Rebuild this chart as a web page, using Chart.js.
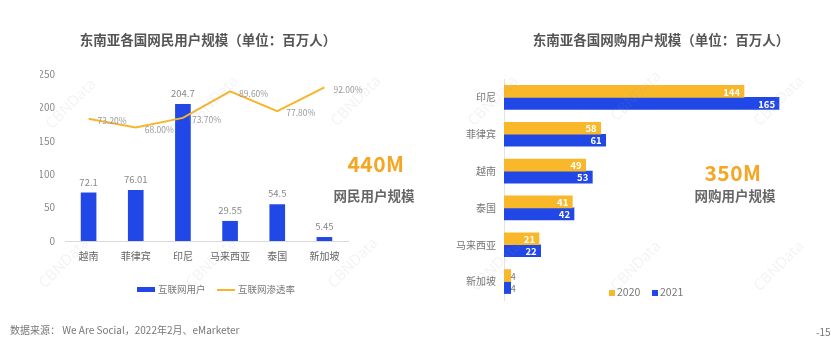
<!DOCTYPE html>
<html>
<head>
<meta charset="utf-8">
<script src="https://cdn.jsdelivr.net/npm/chart.js@4/dist/chart.umd.min.js"></script>
<style>
  html, body { margin:0; padding:0; background:#fff; }
  body { width:831px; height:343px; position:relative; overflow:hidden;
         font-family:"Noto Sans CJK SC","Noto Sans",sans-serif; }
  .abs { position:absolute; white-space:nowrap; }
  .title { font-size:13.5px; font-weight:bold; color:#555; transform:translateX(-50%); }
  .big { font-size:21px; font-weight:bold; color:#f5a623; transform:translateX(-50%); letter-spacing:0.5px; }
  .sub { font-size:13.5px; font-weight:bold; color:#666; transform:translateX(-50%); }
  .leg { font-size:9.5px; color:#777; }
  .wm { font-size:15px; color:rgba(160,160,160,0.12); transform:translate(-50%,-50%) rotate(-45deg); font-family:"Open Sans",sans-serif; }
  canvas { position:absolute; top:0; }
</style>
</head>
<body>
<canvas id="c1" width="420" height="343" style="left:0;width:420px;height:343px"></canvas>
<canvas id="c2" width="411" height="343" style="left:420px;width:411px;height:343px"></canvas>

<div class="abs title" style="left:208px;top:29px">东南亚各国网民用户规模（单位：百万人）</div>
<div class="abs title" style="left:661px;top:29px">东南亚各国网购用户规模（单位：百万人）</div>

<div class="abs big" style="left:376px;top:148px">440M</div>
<div class="abs sub" style="left:374px;top:185px">网民用户规模</div>
<div class="abs big" style="left:733px;top:157px">350M</div>
<div class="abs sub" style="left:735px;top:185px">网购用户规模</div>

<!-- left legend -->
<div class="abs" style="left:137px;top:287px;width:18px;height:5px;background:#2148e6"></div>
<div class="abs leg" style="left:158px;top:282px">互联网用户</div>
<div class="abs" style="left:217px;top:289px;width:18px;height:2px;background:#f7b52c"></div>
<div class="abs leg" style="left:238px;top:282px">互联网渗透率</div>

<!-- right legend -->
<div class="abs" style="left:609px;top:290px;width:6px;height:6px;background:#f9b82a"></div>
<div class="abs leg" style="left:617px;top:284px;font-size:10.5px">2020</div>
<div class="abs" style="left:652px;top:290px;width:6px;height:6px;background:#2148e6"></div>
<div class="abs leg" style="left:660px;top:284px;font-size:10.5px">2021</div>

<div class="abs" style="left:10px;top:322px;font-size:10px;color:#777">数据来源：&nbsp;We Are Social，2022年2月、eMarketer</div>
<div class="abs" style="left:816px;top:324px;font-size:10px;color:#777">-15</div>

<div class="abs wm" style="left:70px;top:103px">CBNData</div>
<div class="abs wm" style="left:212px;top:100px">CBNData</div>
<div class="abs wm" style="left:355px;top:100px">CBNData</div>
<div class="abs wm" style="left:63px;top:262px">CBNData</div>
<div class="abs wm" style="left:210px;top:262px">CBNData</div>
<div class="abs wm" style="left:352px;top:262px">CBNData</div>
<div class="abs wm" style="left:492px;top:100px">CBNData</div>
<div class="abs wm" style="left:635px;top:95px">CBNData</div>
<div class="abs wm" style="left:778px;top:100px">CBNData</div>
<div class="abs wm" style="left:495px;top:265px">CBNData</div>
<div class="abs wm" style="left:635px;top:265px">CBNData</div>
<div class="abs wm" style="left:778px;top:265px">CBNData</div>

<script>
// ---- data ----
const netCountries = ['越南','菲律宾','印尼','马来西亚','泰国','新加坡'];
const netUsers = [72.1, 76.01, 204.7, 29.55, 54.5, 5.45];
const netUserLabels = ['72.1','76.01','204.7','29.55','54.5','5.45'];
const netPenetration = [73.2, 68.0, 73.7, 89.6, 77.8, 92.0];
const yTicks = [0, 50, 100, 150, 200, 250];

const shopCountries = ['印尼','菲律宾','越南','泰国','马来西亚','新加坡'];
const shop2020 = [144, 58, 49, 41, 21, 4];
const shop2021 = [165, 61, 53, 42, 22, 4];
const shopYears = ['2020','2021'];

const BLUE = '#2148e6', ORANGE = '#f7b52c', ORANGE2 = '#f9b82a';
const FONT = '"Noto Sans CJK SC","Noto Sans",sans-serif';

// label plugin for left chart
const leftLabels = {
  id: 'leftLabels',
  afterDatasetsDraw(chart) {
    const ctx = chart.ctx;
    ctx.save();
    const bars = chart.getDatasetMeta(0).data;
    ctx.font = '9.5px ' + FONT;
    ctx.fillStyle = '#888';
    ctx.textAlign = 'center';
    ctx.textBaseline = 'bottom';
    bars.forEach((b, i) => ctx.fillText(netUserLabels[i], b.x, b.y - 6));
    const pts = chart.getDatasetMeta(1).data;
    ctx.font = '8.5px ' + FONT;
    ctx.fillStyle = '#999';
    ctx.textAlign = 'left';
    ctx.textBaseline = 'middle';
    pts.forEach((p, i) => ctx.fillText(netPenetration[i].toFixed(2) + '%', p.x + 9, p.y + 2));
    ctx.restore();
  }
};

new Chart(document.getElementById('c1'), {
  data: {
    labels: netCountries,
    datasets: [
      { type: 'bar', label: '互联网用户', data: netUsers, backgroundColor: BLUE,
        barThickness: 15, yAxisID: 'y', order: 2 },
      { type: 'line', label: '互联网渗透率', data: netPenetration, borderColor: ORANGE,
        borderWidth: 2, pointRadius: 0, tension: 0, yAxisID: 'y2', order: 1 }
    ]
  },
  options: {
    responsive: false, animation: false, devicePixelRatio: 1,
    layout: { padding: { left: 40, right: 72, top: 74, bottom: 77 } },
    plugins: { legend: { display: false }, tooltip: { enabled: false } },
    scales: {
      x: {
        grid: { display: false, drawTicks: false },
        border: { display: true, color: '#d9d9d9', width: 1 },
        ticks: { color: '#666', font: { size: 10, family: FONT }, padding: 9, maxRotation: 0 },
        afterFit(s) { s.height = 25; }
      },
      y: {
        min: 0, max: 250,
        afterBuildTicks(s) { s.ticks = yTicks.map(v => ({ value: v })); },
        grid: { display: false, drawTicks: false },
        border: { display: false },
        ticks: { color: '#888', font: { size: 10, family: FONT }, padding: 10 },
        afterFit(s) { s.width = 25; }
      },
      y2: { display: false, min: 0, max: 100 }
    }
  },
  plugins: [leftLabels]
});

// label plugin for right chart
const rightLabels = {
  id: 'rightLabels',
  afterDatasetsDraw(chart) {
    const ctx = chart.ctx;
    ctx.save();
    ctx.textBaseline = 'middle';
    chart.data.datasets.forEach((ds, di) => {
      chart.getDatasetMeta(di).data.forEach((b, i) => {
        const v = ds.data[i];
        const w = b.x - b.base;
        if (w > 20) {
          ctx.font = 'bold 9.5px ' + FONT;
          ctx.fillStyle = '#fff';
          ctx.textAlign = 'right';
          ctx.fillText(String(v), b.x - 4, b.y + 0.5);
        } else {
          ctx.font = '9px ' + FONT;
          ctx.fillStyle = '#777';
          ctx.textAlign = 'left';
          ctx.fillText(String(v), b.x, b.y + 0.5);
        }
      });
    });
    ctx.restore();
  }
};

new Chart(document.getElementById('c2'), {
  type: 'bar',
  data: {
    labels: shopCountries,
    datasets: [
      { label: shopYears[0], data: shop2020, backgroundColor: ORANGE2, barThickness: 12 },
      { label: shopYears[1], data: shop2021, backgroundColor: BLUE, barThickness: 12 }
    ]
  },
  options: {
    indexAxis: 'y',
    responsive: false, animation: false, devicePixelRatio: 1,
    layout: { padding: { left: 20, right: 27, top: 79, bottom: 43 } },
    plugins: { legend: { display: false }, tooltip: { enabled: false } },
    scales: {
      x: { display: false, min: 0, max: 180 },
      y: {
        grid: { display: false, drawTicks: false },
        border: { display: true, color: '#e3e3e3', width: 1 },
        ticks: { color: '#777', font: { size: 10, family: FONT }, padding: 8 },
        afterFit(s) { s.width = 64; }
      }
    }
  },
  plugins: [rightLabels]
});
</script>
</body>
</html>
